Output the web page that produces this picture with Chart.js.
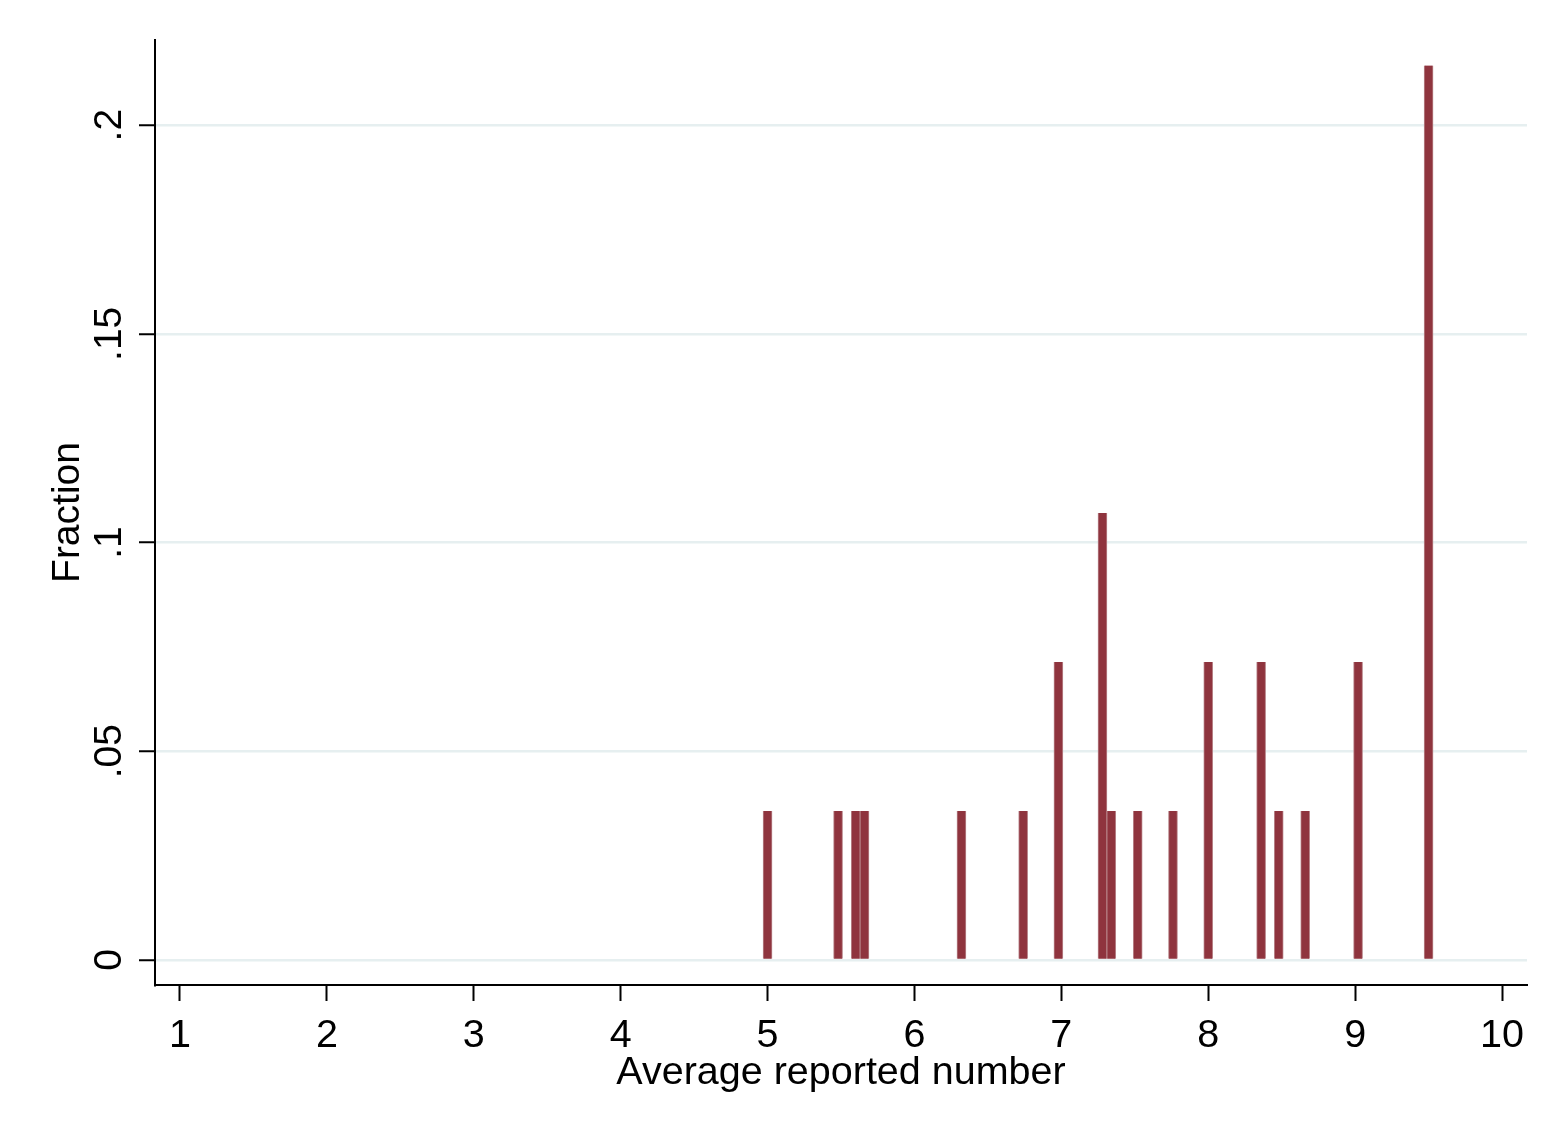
<!DOCTYPE html>
<html>
<head>
<meta charset="utf-8">
<script src="https://cdn.jsdelivr.net/npm/chart.js@4"></script>
<style>
html,body{margin:0;padding:0;background:#fff;}
canvas{display:block;}
</style>
</head>
<body>
<canvas id="c" width="1568" height="1141" style="width:1568px;height:1141px"></canvas>
<script>
// Bar centers (average reported number) and bar heights (fraction)
const binCenters = [5.00, 5.48, 5.60, 5.66, 6.32, 6.74, 6.98, 7.28, 7.34, 7.52, 7.76, 8.00, 8.36, 8.48, 8.66, 9.02, 9.50];
const fractions  = [0.0357, 0.0357, 0.0357, 0.0357, 0.0357, 0.0357, 0.0714, 0.1071, 0.0357, 0.0357, 0.0357, 0.0714, 0.0714, 0.0357, 0.0357, 0.0714, 0.2143];

const xTicks = [1, 2, 3, 4, 5, 6, 7, 8, 9, 10];
const yTicks = [0, 0.05, 0.1, 0.15, 0.2];
const yTickLabels = ['0', '.05', '.1', '.15', '.2'];

const xTitle = 'Average reported number';
const yTitle = 'Fraction';

const FONT = '"Liberation Sans", Arial, sans-serif';
Chart.defaults.font.family = FONT;

const frame = {
  id: 'frame',
  beforeDraw(chart) {
    const ctx = chart.ctx;
    ctx.save();
    ctx.fillStyle = '#ffffff';
    ctx.fillRect(0, 0, chart.width, chart.height);
    ctx.restore();
  }
};

new Chart(document.getElementById('c'), {
  type: 'bar',
  data: {
    datasets: [{
      data: binCenters.map((x, i) => ({ x: x, y: fractions[i] })),
      backgroundColor: '#8f343e',
      borderColor: '#b9868b',
      borderWidth: { left: 1, right: 1, top: 0, bottom: 0 },
      barThickness: 9
    }]
  },
  options: {
    responsive: false,
    devicePixelRatio: 1,
    animation: false,
    layout: { padding: { top: 40, right: 41, bottom: 0, left: 0 } },
    plugins: { legend: { display: false }, tooltip: { enabled: false } },
    scales: {
      x: {
        type: 'linear',
        min: 0.83,
        max: 10.17,
        offset: false,
        afterBuildTicks: s => { s.ticks = xTicks.map(v => ({ value: v })); },
        afterFit: s => { s.height = 156; },
        ticks: {
          font: { size: 39.5 },
          color: '#000',
          padding: 11,
          autoSkip: false,
          maxRotation: 0,
          callback: v => String(v)
        },
        grid: {
          offset: false,
          drawOnChartArea: false,
          drawTicks: true,
          tickLength: 16,
          tickColor: '#000',
          tickWidth: 2
        },
        border: { display: true, color: '#000', width: 2 },
        title: {
          display: true,
          text: xTitle,
          font: { size: 39.5 },
          color: '#000',
          padding: { top: 0, bottom: 44 }
        }
      },
      y: {
        type: 'linear',
        min: -0.006,
        max: 0.2204,
        afterBuildTicks: s => { s.ticks = yTicks.map(v => ({ value: v })); },
        afterFit: s => { s.width = 155; },
        ticks: {
          font: { size: 39 },
          color: '#000',
          minRotation: 90,
          maxRotation: 90,
          crossAlign: 'center',
          padding: 2,
          callback: v => yTickLabels[yTicks.indexOf(v)]
        },
        grid: {
          color: '#e6eff0',
          lineWidth: 2.5,
          drawTicks: true,
          tickLength: 16,
          tickColor: '#000',
          tickWidth: 2
        },
        border: { display: true, color: '#000', width: 2 },
        title: {
          display: true,
          text: yTitle,
          font: { size: 39 },
          color: '#000',
          padding: { top: 45, bottom: 0 }
        }
      }
    }
  },
  plugins: [frame]
});
</script>
</body>
</html>
